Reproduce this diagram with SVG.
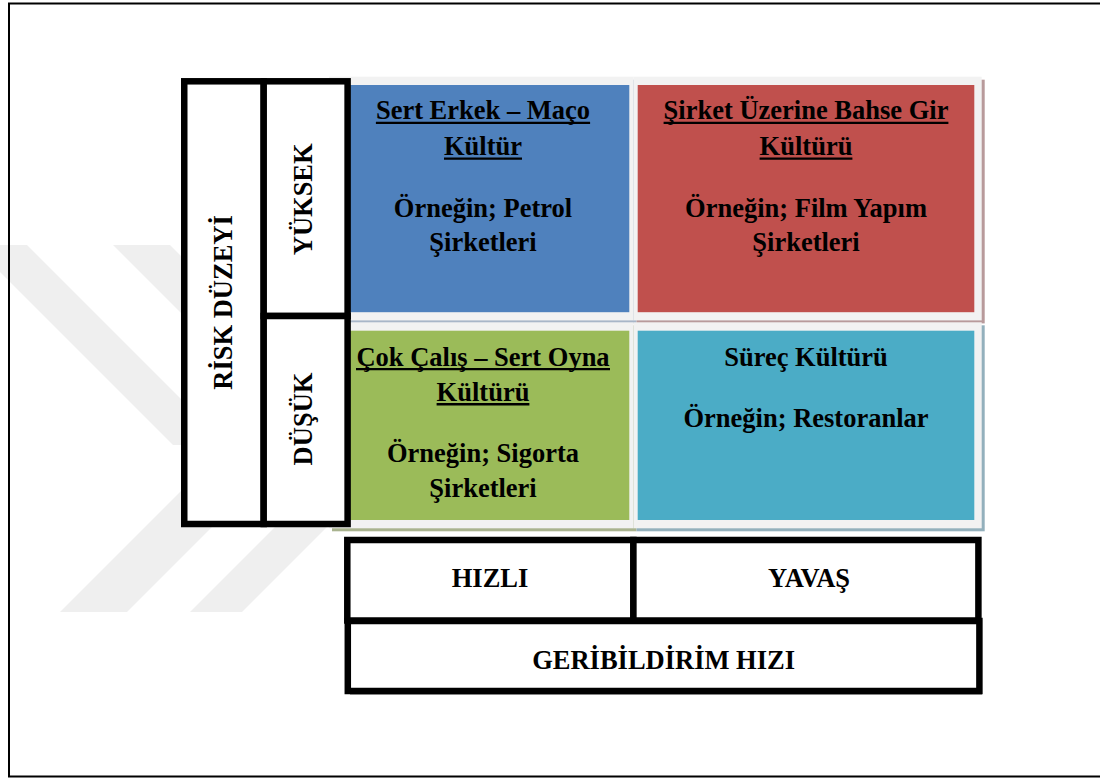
<svg xmlns="http://www.w3.org/2000/svg" width="1100" height="778" viewBox="0 0 1100 778">
<style>
.t{font-family:"Liberation Serif","Times New Roman",serif;font-weight:bold;font-size:26.5px;fill:#000;text-anchor:middle}
.bx{fill:#fff;stroke:#000;stroke-width:6.5}
.fr{fill:#f2f2f2}
.ul{stroke:#000;stroke-width:2.4}
.wm{fill:#efefef}
</style>
<rect width="1100" height="778" fill="#fff"/>
<g id="watermark">
<polygon class="wm" points="-27,245 27,245 227,445 173,445"/>
<polygon class="wm" points="113,245 170,245 370,445 313,445"/>
<polygon class="wm" points="60,612 127,612 297,442 230,442"/>
<polygon class="wm" points="190,612 242,612 360,494 308,494"/>
</g>
<rect id="page-border" x="9" y="3.5" width="1100" height="773" fill="none" stroke="#000" stroke-width="2"/>
<g id="connectors"></g>
<g id="cell-sert-erkek">
<rect x="332" y="79.7" width="304.5" height="243.7" fill="#a8b6c8"/>
<rect class="fr" x="329" y="76.7" width="304.5" height="243.7"/>
<rect x="337" y="85" width="292.3" height="227.2" fill="#4f81bd"/>
<text class="t" x="483" y="119.3">Sert Erkek – Maço</text>
<line class="ul" x1="375.9" y1="122.9" x2="590.1" y2="122.9"/>
<text class="t" x="483" y="155">Kültür</text>
<line class="ul" x1="444" y1="158.6" x2="522" y2="158.6"/>
<text class="t" x="483" y="217">Örneğin; Petrol</text>
<text class="t" x="483" y="251">Şirketleri</text>
</g>
<g id="cell-sirket-uzerine">
<rect x="636.5" y="79.7" width="348.2" height="243.7" fill="#b89a9b"/>
<rect class="fr" x="633.5" y="76.7" width="348.2" height="243.7"/>
<rect x="637.7" y="85" width="336.6" height="227.2" fill="#c0504d"/>
<text class="t" x="806" y="119.3">Şirket Üzerine Bahse Gir</text>
<line class="ul" x1="663.6" y1="122.9" x2="948.4" y2="122.9"/>
<text class="t" x="806" y="155">Kültürü</text>
<line class="ul" x1="759.6" y1="158.6" x2="852.4" y2="158.6"/>
<text class="t" x="806" y="217">Örneğin; Film Yapım</text>
<text class="t" x="806" y="251">Şirketleri</text>
</g>
<g id="cell-cok-calis">
<rect x="332" y="325.3" width="304.5" height="206" fill="#a9b38f"/>
<rect class="fr" x="329" y="322.3" width="304.5" height="206"/>
<rect x="337" y="330.7" width="292.3" height="189.3" fill="#9bbb59"/>
<text class="t" x="483" y="365.5">Çok Çalış – Sert Oyna</text>
<line class="ul" x1="356" y1="369.1" x2="610" y2="369.1"/>
<text class="t" x="483" y="400.7">Kültürü</text>
<line class="ul" x1="436.6" y1="404.3" x2="529.4" y2="404.3"/>
<text class="t" x="483" y="461.5">Örneğin; Sigorta</text>
<text class="t" x="483" y="496.5">Şirketleri</text>
</g>
<g id="cell-surec">
<rect x="636.5" y="325.3" width="348.2" height="206" fill="#93b0bc"/>
<rect class="fr" x="633.5" y="322.3" width="348.2" height="206"/>
<rect x="637.7" y="330.7" width="336.6" height="189.3" fill="#4bacc6"/>
<text class="t" x="806" y="365.5">Süreç Kültürü</text>
<text class="t" x="806" y="427">Örneğin; Restoranlar</text>
</g>
<g id="risk-duzeyi">
<rect class="bx" x="184.25" y="81.3" width="79.45" height="442.7"/>
<text class="t" transform="translate(232,302.5) rotate(-90)">RİSK DÜZEYİ</text>
</g>
<g id="yuksek">
<rect class="bx" x="263.7" y="81.3" width="83.9" height="234.7"/>
<text class="t" transform="translate(311.5,199.3) rotate(-90)">YÜKSEK</text>
</g>
<g id="dusuk">
<rect class="bx" x="263.7" y="316" width="83.9" height="208"/>
<text class="t" transform="translate(311.5,419) rotate(-90)">DÜŞÜK</text>
</g>
<g id="geribildirim">
<rect x="350" y="623" width="632" height="72" fill="#b0b0b0"/>
<rect class="bx" x="347.8" y="621" width="631.6" height="70"/>
<text class="t" x="663.6" y="668.5">GERİBİLDİRİM HIZI</text>
</g>
<g id="hizli">
<rect class="bx" x="347.3" y="540" width="286.1" height="80.5"/>
<text class="t" x="490" y="587.3">HIZLI</text>
</g>
<g id="yavas">
<rect class="bx" x="633.4" y="540" width="345" height="80.5"/>
<text class="t" x="809" y="587.3">YAVAŞ</text>
</g>
</svg>
